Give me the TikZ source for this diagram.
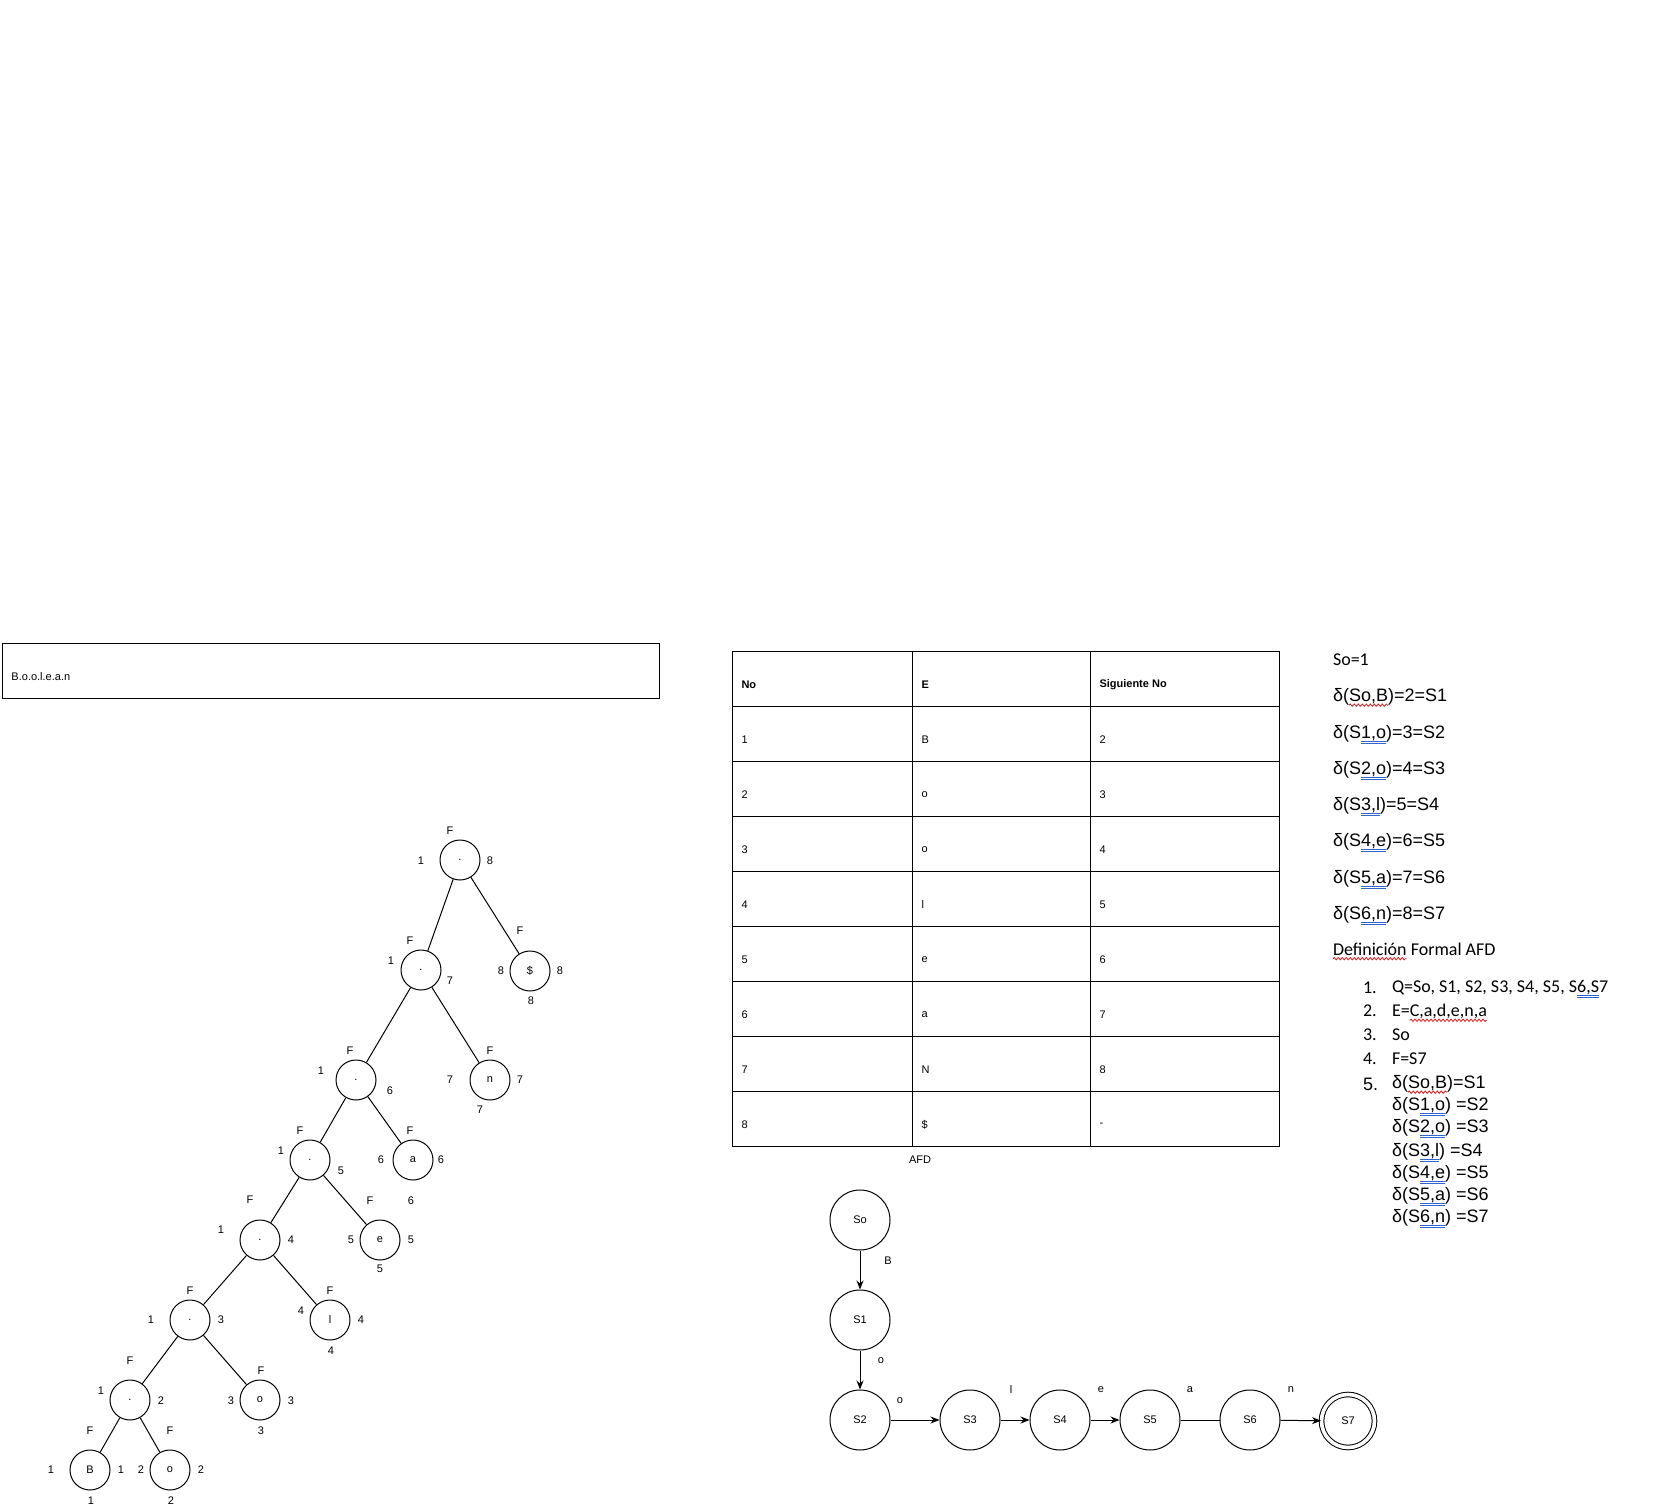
\documentclass[tikz,border=0pt]{standalone}
\usepackage{fontspec}
\setmainfont{Liberation Sans}
\newfontfamily\calfont{Carlito}
\usetikzlibrary{arrows.meta,calc,decorations.pathmorphing}
\definecolor{spellred}{RGB}{220,30,30}
\definecolor{spellblue}{RGB}{50,100,210}
\newcommand{\smtxt}{\fontsize{11}{13}\selectfont}
\newcommand{\lgtxt}{\fontsize{18}{21}\selectfont}
\newcommand{\lgcal}{\calfont\fontsize{18}{21}\selectfont}
\newcommand{\splitline}[6]{%
  \node[txt,font=#3,anchor=west] (#1a) at #2 {#4};
  \node[txt,font=#3,anchor=base west] (#1b) at (#1a.base east) {#5};
  \node[txt,font=#3,anchor=base west] (#1c) at (#1b.base east) {#6};
}
\newcommand{\wavyul}[1]{\draw[wave] ($(#1.base west)+(0,3.5)$) -- ($(#1.base east)+(0,3.5)$);}
\newcommand{\dblul}[1]{\draw[dblu] ($(#1.base west)+(0,2.5)$) -- ($(#1.base east)+(0,2.5)$);
  \draw[dblu] ($(#1.base west)+(0,4.5)$) -- ($(#1.base east)+(0,4.5)$);}
\tikzset{
  lbl/.style={inner sep=0, font=\smtxt},
  tnode/.style={circle, draw, minimum size=40pt, inner sep=0, font=\smtxt},
  state/.style={circle, draw, minimum size=60pt, inner sep=0, font=\smtxt},
  txt/.style={inner sep=0, outer sep=0},
  wave/.style={draw=spellred, line width=0.8pt, decorate, decoration={snake, amplitude=1.2pt, segment length=4pt}},
  dblu/.style={draw=spellblue, line width=0.8pt},
  arr/.style={-{Stealth[length=9pt,width=7pt]}},
}
\begin{document}
\begin{tikzpicture}[x=1pt,y=-1pt,line width=1pt]
\useasboundingbox[fill=white] (0,0) rectangle (1674,1511);

% top box
\node[draw, minimum width=657pt, minimum height=55pt, anchor=north west, inner sep=0] (box) at (2,643) {};
\node[lbl, anchor=west] (boxtxt) at (11,677) {B.o.o.l.e.a.n};

% ---------- syntax tree ----------
\node[tnode] (R0) at (460,860) {.};
\node[tnode] (R1) at (421,970) {.};
\node[tnode] (D)  at (530,971) {\$};
\node[tnode] (R2) at (356,1080) {.};
\node[tnode] (N)  at (490,1080) {n};
\node[tnode] (R3) at (310,1160) {.};
\node[tnode] (A)  at (413,1160) {a};
\node[tnode] (R4) at (260,1240) {.};
\node[tnode] (E)  at (380,1240) {e};
\node[tnode] (R5) at (190,1320) {.};
\node[tnode] (L)  at (330,1320) {l};
\node[tnode] (R6) at (130,1400) {.};
\node[tnode] (O1) at (260,1400) {o};
\node[tnode] (B)  at (90,1470) {B};
\node[tnode] (O2) at (170,1470) {o};

\draw (R0) -- (R1); \draw (R0) -- (D);
\draw (R1) -- (R2); \draw (R1) -- (N);
\draw (R2) -- (R3); \draw (R2) -- (A);
\draw (R3) -- (R4); \draw (R3) -- (E);
\draw (R4) -- (R5); \draw (R4) -- (L);
\draw (R5) -- (R6); \draw (R5) -- (O1);
\draw (R6) -- (B);  \draw (R6) -- (O2);

% labels
\node[lbl] (r0f) at (450,831) {F};
\node[lbl] (r0a) at (421,861) {1};
\node[lbl] (r0b) at (490,861) {8};
\node[lbl] (r1f) at (410,941) {F};
\node[lbl] (r1a) at (391,961) {1};
\node[lbl] (r1b) at (450,981) {7};
\node[lbl] (df) at (520,931) {F};
\node[lbl] (da) at (501,971) {8};
\node[lbl] (db) at (560,971) {8};
\node[lbl] (dc) at (531,1001) {8};
\node[lbl] (r2f) at (350,1051) {F};
\node[lbl] (r2a) at (321,1071) {1};
\node[lbl] (r2b) at (390,1091) {6};
\node[lbl] (nf) at (490,1051) {F};
\node[lbl] (na) at (450,1080) {7};
\node[lbl] (nb) at (520,1080) {7};
\node[lbl] (nc) at (480,1110) {7};
\node[lbl] (r3f) at (300,1131) {F};
\node[lbl] (r3a) at (281,1151) {1};
\node[lbl] (r3b) at (341,1171) {5};
\node[lbl] (af) at (410,1131) {F};
\node[lbl] (aa) at (381,1160) {6};
\node[lbl] (ab) at (441,1160) {6};
\node[lbl] (ac) at (411,1201) {6};
\node[lbl] (r4f) at (250,1200) {F};
\node[lbl] (r4a) at (221,1230) {1};
\node[lbl] (r4b) at (291,1240) {4};
\node[lbl] (ef) at (370,1201) {F};
\node[lbl] (ea) at (351,1240) {5};
\node[lbl] (eb) at (411,1240) {5};
\node[lbl] (ec) at (380,1269) {5};
\node[lbl] (r5f) at (190,1291) {F};
\node[lbl] (r5a) at (151,1320) {1};
\node[lbl] (r5b) at (221,1320) {3};
\node[lbl] (lf) at (330,1291) {F};
\node[lbl] (la) at (301,1311) {4};
\node[lbl] (lb) at (361,1320) {4};
\node[lbl] (lc) at (331,1351) {4};
\node[lbl] (r6f) at (130,1361) {F};
\node[lbl] (r6a) at (101,1391) {1};
\node[lbl] (r6b) at (161,1401) {2};
\node[lbl] (o1f) at (261,1371) {F};
\node[lbl] (o1a) at (231,1401) {3};
\node[lbl] (o1b) at (291,1401) {3};
\node[lbl] (o1c) at (261,1431) {3};
\node[lbl] (bf) at (90,1431) {F};
\node[lbl] (ba) at (51,1470) {1};
\node[lbl] (bb) at (121,1470) {1};
\node[lbl] (bc) at (91,1501) {1};
\node[lbl] (o2f) at (170,1431) {F};
\node[lbl] (o2a) at (141,1470) {2};
\node[lbl] (o2b) at (201,1470) {2};
\node[lbl] (o2c) at (171,1501) {2};

% ---------- table ----------
\draw (732,651) rectangle (1279,1146);
\foreach \i in {1,...,8} { \draw (732,651+55*\i) -- (1279,651+55*\i); }
\draw (912,651) -- (912,1146);
\draw (1090,651) -- (1090,1146);
\node[lbl, anchor=west, font=\smtxt\bfseries] (h1) at (741,685) {No};
\node[lbl, anchor=west, font=\smtxt\bfseries] (h2) at (921,685) {E};
\node[lbl, anchor=west, font=\smtxt\bfseries] (h3) at (1099,685) {Siguiente No};
\foreach \n/\e/\s [count=\k] in {1/B/2, 2/o/3, 3/o/4, 4/l/5, 5/e/6, 6/a/7, 7/N/8, 8/\$/-} {
  \node[lbl, anchor=west] (c1\k) at (741,685+55*\k) {\n};
  \node[lbl, anchor=west] (c2\k) at (921,685+55*\k) {\e};
  \node[lbl, anchor=west] (c3\k) at (1099,685+55*\k) {\s};
}
\node[lbl] (afd) at (920,1160) {AFD};

% ---------- automaton ----------
\node[state] (So) at (860,1220) {So};
\node[state] (S1) at (860,1320) {S1};
\node[state] (S2) at (860,1420) {S2};
\node[state] (S3) at (970,1420) {S3};
\node[state] (S4) at (1060,1420) {S4};
\node[state] (S5) at (1150,1420) {S5};
\node[state] (S6) at (1250,1420) {S6};
\node[circle, draw, double, double distance=3.6pt, minimum size=53pt, inner sep=0, font=\smtxt] (S7) at (1348,1421) {S7};
\draw[arr] (So) -- (S1);
\draw[arr] (S1) -- (S2);
\draw[arr] (S2) -- (S3);
\draw[arr] (S3) -- (S4);
\draw[arr] (S4) -- (S5);
\draw (S5) -- (S6);
\draw[arr] (S6) -- (S7);
\node[lbl] (tB) at (888,1261) {B};
\node[lbl] (to1) at (881,1361) {o};
\node[lbl] (to2) at (900,1401) {o};
\node[lbl] (tl) at (1011,1390) {l};
\node[lbl] (te) at (1101,1390) {e};
\node[lbl] (ta) at (1190,1390) {a};
\node[lbl] (tn) at (1291,1390) {n};

% ---------- right text ----------
\node[txt, font=\lgcal, anchor=west] (so1) at (1333,660) {So=1};
\splitline{m1}{(1333,697)}{\lgtxt}{δ(}{So,B}{)=2=S1} \wavyul{m1b}
\splitline{m2}{(1333,734)}{\lgtxt}{δ(S}{1,o}{)=3=S2} \dblul{m2b}
\splitline{m3}{(1333,770)}{\lgtxt}{δ(S}{2,o}{)=4=S3} \dblul{m3b}
\splitline{m4}{(1333,806)}{\lgtxt}{δ(S}{3,l}{)=5=S4} \dblul{m4b}
\splitline{m5}{(1333,842)}{\lgtxt}{δ(S}{4,e}{)=6=S5} \dblul{m5b}
\splitline{m6}{(1333,879)}{\lgtxt}{δ(S}{5,a}{)=7=S6} \dblul{m6b}
\splitline{m7}{(1333,915)}{\lgtxt}{δ(S}{6,n}{)=8=S7} \dblul{m7b}
\node[txt, font=\lgcal, anchor=west] (defa) at (1333,949) {Definición};
\node[txt, font=\lgcal, anchor=base west] (defb) at (defa.base east) {~Formal AFD};
\wavyul{defa}

\node[txt, font=\lgcal, anchor=west] (n1) at (1363,988) {1.};
\node[txt, font=\lgcal, anchor=west] (n2) at (1363,1011) {2.};
\node[txt, font=\lgcal, anchor=west] (n3) at (1363,1035) {3.};
\node[txt, font=\lgcal, anchor=west] (n4) at (1363,1059) {4.};
\node[txt, font=\lgtxt, anchor=west] (n5) at (1363,1084) {5.};
\splitline{q}{(1392,988)}{\lgcal}{Q=So, S1, S2, S3, S4, S5, S}{6,S}{7} \dblul{qb}
\splitline{e}{(1392,1011)}{\lgcal}{E=}{C,a,d,e,n,a}{} \wavyul{eb}
\node[txt, font=\lgcal, anchor=west] (l3) at (1392,1035) {So};
\node[txt, font=\lgcal, anchor=west] (l4) at (1392,1059) {F=S7};
\splitline{k1}{(1392,1084)}{\lgtxt}{δ(}{So,B}{)=S1} \wavyul{k1b}
\splitline{k2}{(1392,1106)}{\lgtxt}{δ(S}{1,o}{) =S2} \dblul{k2b}
\splitline{k3}{(1392,1128)}{\lgtxt}{δ(S}{2,o}{) =S3} \dblul{k3b}
\splitline{k4}{(1392,1152)}{\lgtxt}{δ(S}{3,l}{) =S4} \dblul{k4b}
\splitline{k5}{(1392,1174)}{\lgtxt}{δ(S}{4,e}{) =S5} \dblul{k5b}
\splitline{k6}{(1392,1196)}{\lgtxt}{δ(S}{5,a}{) =S6} \dblul{k6b}
\splitline{k7}{(1392,1218)}{\lgtxt}{δ(S}{6,n}{) =S7} \dblul{k7b}
\end{tikzpicture}
\end{document}
